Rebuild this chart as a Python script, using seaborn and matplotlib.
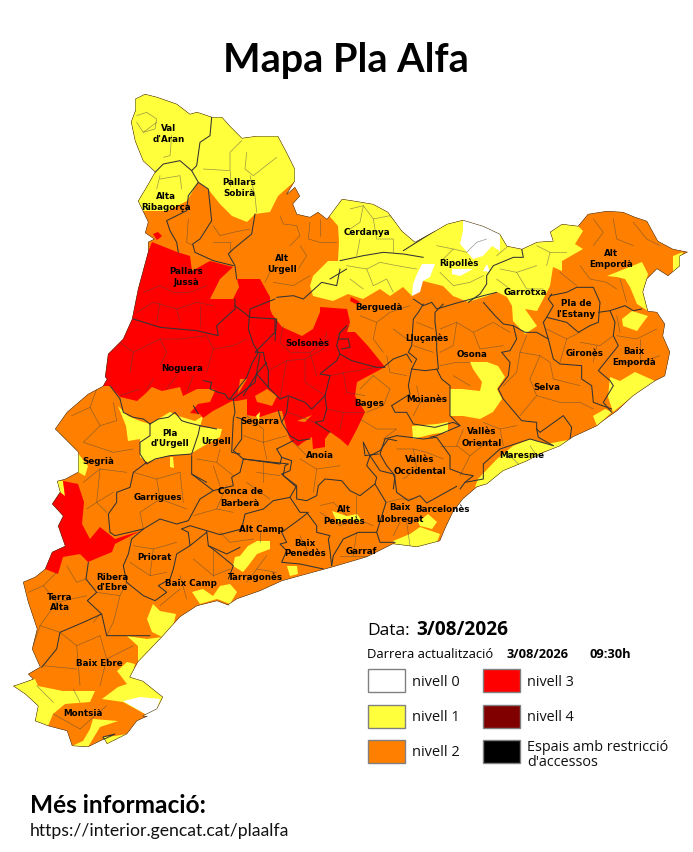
import matplotlib
matplotlib.use('Agg')
import matplotlib.pyplot as plt
from matplotlib.patches import Polygon, Rectangle
import seaborn as sns

sns.set_theme(style='white')

# colours of the levels
BLANC = '#ffffff'
GROC = '#ffff3c'
TARONJA = '#ff8000'
VERMELL = '#ff0000'
GRANA = '#800000'
NEGRE = '#000000'

# map outlines, traced in picture pixels
contorn = [(135,112),(135,100),(145,95),(157,98),(177,105),(190,115),(197,113),(212,118),(222,118),(230,127),
    (242,139),(257,137),(278,137),(286,152),(295,170),(295,182),(287,195),(295,188),(300,197),(293,205),
    (297,215),(310,218),(318,213),(327,220),(333,212),(342,200),(355,202),(373,205),(388,213),(402,232),
    (415,243),(435,232),(447,225),(463,221),(483,227),(500,235),(507,247),(522,250),(537,243),(553,242),
    (550,233),(562,225),(578,227),(588,215),(607,212),(623,213),(635,218),(647,222),(658,242),(673,250),
    (688,253),(680,257),(680,267),(668,277),(657,270),(647,280),(643,293),(648,312),(657,313),(665,325),
    (663,337),(670,353),(665,377),(655,382),(633,397),(617,412),(603,422),(597,427),(573,438),(560,447),
    (540,455),(527,462),(503,472),(487,485),(477,488),(463,500),(453,513),(445,530),(440,542),(417,548),
    (393,545),(367,558),(333,568),(300,577),(282,582),(260,592),(237,600),(228,606),(230,607),(217,602),
    (197,607),(180,618),(162,638),(138,663),(130,678),(143,682),(163,698),(157,710),(143,717),(148,717),
    (137,722),(127,735),(107,745),(103,738),(115,735),(88,748),(72,747),(67,732),(48,727),(35,722),
    (38,707),(25,695),(13,687),(25,683),(33,680),(28,675),(40,668),(32,650),(37,630),(28,603),
    (23,583),(35,578),(45,570),(52,553),(65,547),(58,527),(63,517),(52,505),(60,493),(57,482),
    (65,480),(78,473),(78,453),(55,430),(67,413),(88,395),(103,387),(107,380),(105,378),(108,355),
    (123,340),(132,320),(138,290),(148,253),(148,243),(154,240),(145,234),(148,223),(138,202),(147,187),
    (155,173),(143,162),(135,142),(131,123)]

groc_nord = [(135,112),(135,100),(145,95),(157,98),(177,105),(190,115),(197,113),(212,118),(222,118),(230,127),
    (242,139),(257,137),(278,137),(286,152),(295,170),(295,182),(278,197),(270,213),(255,215),(247,223),
    (232,217),(220,205),(208,190),(198,183),(187,202),(167,212),(143,212),(138,202),(147,187),(155,173),
    (143,162),(135,142),(131,123)]
groc_pirineu = [(325,212),(333,212),(342,200),(355,202),(373,205),(388,213),(402,232),(415,243),(435,232),(447,225),
    (463,221),(483,227),(500,235),(507,247),(522,250),(537,243),(553,242),(550,233),(562,225),(578,227),
    (583,232),(575,245),(583,250),(562,262),(562,272),(553,268),(550,287),(537,312),(525,310),(537,327),
    (525,335),(513,322),(512,307),(507,298),(497,293),(487,297),(468,303),(453,297),(443,287),(423,282),
    (412,297),(403,288),(390,297),(380,290),(363,300),(348,295),(333,302),(313,297),(310,287),(313,277),
    (328,262),(338,262),(339,243),(338,227)]
groc_illes = [
    [(408,203),(412,213),(415,217),(405,215),(403,210)],
    [(607,277),(642,263),(648,275),(643,293),(648,312),(637,305),(630,288),(625,280),(617,278)],
    [(673,257),(683,253),(680,267),(673,273)],
    [(622,320),(632,312),(648,317),(642,325),(637,332),(623,327)],
    [(610,378),(620,382),(635,373),(655,382),(633,397),(613,413),(608,398)],
    [(593,417),(605,410),(612,413),(597,427)],
    [(470,363),(487,363),(498,367),(505,378),(497,390),(502,400),(493,413),(480,420),(463,417),(450,417),
     (450,390),(462,390),(480,392),(482,383),(473,370)],
    [(412,427),(437,425),(448,423),(448,433),(433,435),(413,440)],
    [(573,440),(562,447),(543,453),(517,470),(500,477),(487,485),(475,488),(478,480),(497,460),(513,447),
     (530,440),(547,445)],
    [(118,407),(128,417),(140,422),(150,425),(170,413),(178,417),(195,422),(203,417),(200,428),(222,430),
     (220,438),(207,445),(190,455),(167,457),(147,463),(140,458),(140,440),(128,442),(126,427)],
    [(77,453),(88,467),(85,477),(78,473)],
    [(57,482),(63,482),(65,497),(59,497)],
    [(170,458),(173,458),(174,469),(170,468)],
    [(240,557),(248,547),(257,542),(270,542),(270,550),(257,555),(248,567),(243,573),(233,567),(235,558)],
    [(287,567),(297,567),(298,575),(290,577)],
    [(192,593),(203,590),(213,597),(220,587),(230,585),(237,593),(230,605),(217,600),(200,605)],
    [(153,605),(160,612),(176,615),(173,627),(162,638),(152,633),(147,620)],
    [(127,637),(147,640),(162,638),(147,655),(138,663),(138,647)],
    [(117,672),(127,663),(135,665),(132,678),(143,682),(163,698),(157,710),(147,716),(123,703),(102,700),(118,688),(127,685)],
    [(13,687),(25,683),(35,680),(38,687),(63,692),(95,692),(90,703),(65,705),(53,715),(48,727),(35,722),(38,707),(25,695)],
    [(93,720),(118,722),(100,728),(88,748),(72,747),(83,742),(90,730)],
    [(103,738),(115,737),(127,735),(117,745),(107,745)],
    [(332,512),(347,517),(357,515),(363,523),(347,520),(337,523)],
    [(393,542),(410,535),(420,528),(440,535),(437,543),(413,550),(397,547)],
    [(418,523),(428,515),(437,523),(432,530),(420,527)],
]
groc_segarra = [(256,417),(260,413),(259,422)]
blanc_illes = [
    [(463,221),(483,227),(500,235),(500,252),(492,247),(483,257),(473,260),(460,245),(463,232)],
    [(487,265),(490,273),(483,272)],
    [(452,275),(460,277),(473,270),(452,270)],
    [(422,265),(435,265),(430,278),(423,282),(420,293),(412,297),(413,285),(417,275)],
    [(123,702),(140,698),(160,700),(157,710),(147,716)],
]
vermell_centre = [(152,243),(177,253),(190,257),(192,272),(210,262),(233,268),(220,280),(210,300),(233,300),(239,288),
    (237,280),(260,280),(270,298),(270,310),(272,315),(282,328),(302,337),(313,330),(320,313),(320,308),
    (347,310),(350,323),(347,333),(355,333),(368,347),(385,368),(357,383),(355,397),(365,413),(357,430),
    (348,447),(340,440),(330,433),(325,440),(325,448),(313,450),(312,438),(302,444),(298,447),(290,440),
    (288,435),(282,412),(278,412),(260,418),(253,417),(247,416),(247,400),(237,402),(232,402),(213,412),
    (203,419),(200,415),(190,414),(198,405),(210,403),(215,392),(213,390),(197,390),(183,397),(180,388),
    (162,392),(152,388),(145,395),(137,402),(120,398),(110,387),(103,387),(105,378),(108,355),(123,340),
    (132,320),(138,290),(148,253)]
vermell_oest = [(63,482),(78,485),(84,503),(82,525),(90,540),(100,528),(115,540),(140,532),(115,545),(112,553),
    (88,563),(80,555),(63,558),(58,575),(45,570),(52,553),(65,547),(58,527),(63,517),(52,505),
    (60,493),(65,497)]
vermell_illes = [
    [(153,235),(158,233),(162,237),(157,241)],
    [(351,298),(360,303),(356,305),(350,302)],
    [(290,441),(302,444),(298,447)],
]
taronja_illes = [
    [(255,397),(267,390),(277,397),(272,407),(265,405),(257,403)],
    [(240,380),(247,380),(238,395)],
    [(297,422),(312,416),(305,423)],
]

# county borders, traced on the 3x crops (crop pixels, origin in the tuple key)
vores = {
    (0, 80): [
        [(635,115),(630,170),(600,190),(590,260),(575,275),(540,245),(490,255),(465,280)],
        [(575,275),(595,310),(565,350),(560,395),(500,425),(510,455),(530,490),(535,520)],
        [(595,310),(625,330),(635,425),(600,480),(578,495),(585,520),(640,545),(700,560)],
        [(765,405),(755,465),(700,510),(685,525),(705,560),(710,600)],
        [(705,660),(705,690),(650,740),(655,770),(590,755),(480,745),(400,720)],
        [(705,680),(750,715),(830,720),(825,785)],
        [(830,655),(880,650),(910,660),(965,610),(1010,620),(1020,570)],
        [(990,600),(1040,570)],
    ],
    (340, 190): [
        [(0,215),(70,200),(130,190),(190,195),(250,205)],
        [(190,185),(285,125)],
        [(545,180),(550,205),(520,205),(460,230),(440,260),(440,285),(420,315),(385,340)],
        [(220,330),(250,350),(275,340),(290,360),(340,345),(430,320),(470,310)],
        [(250,345),(235,370),(220,390),(215,470),(205,490),(230,510),(215,540),(255,545),(295,540),(290,480),
         (290,440),(285,400),(285,370),(310,345)],
        [(290,540),(305,570),(330,590),(330,680),(360,710)],
        [(430,340),(465,380),(490,405),(520,410),(530,450),(510,485),(485,490),(510,520),(505,560),(475,600),
         (490,630),(545,695),(590,700),(590,720)],
        [(520,410),(555,430),(590,430),(625,450),(610,400),(620,385),(640,350),(625,330),(635,315)],
        [(630,320),(680,310),(710,295),(760,295),(780,340),(775,400),(750,410),(715,430),(680,400),(620,385)],
        [(775,370),(810,365),(825,400),(820,440),(835,470),(775,545),(810,575),(820,590),(790,640),(815,670)],
        [(810,365),(855,350),(880,365),(905,360)],
        [(625,450),(640,510),(660,525),(725,530),(725,570),(755,590),(760,640),(815,660)],
        [(590,720),(600,730),(670,680),(695,715),(690,750)],
        [(590,720),(595,745),(640,770)],
        [(640,770),(570,750),(480,780),(430,825),(430,870),(375,880),(360,900)],
        [(155,650),(210,615),(205,590),(215,540)],
        [(155,650),(165,670),(200,670),(220,705),(285,715),(340,700),(360,710),(290,740),(270,745)],
        [(135,750),(170,740),(250,750),(290,745),(330,800),(330,840),(370,855),(400,860),(375,880)],
        [(135,750),(120,795),(140,830),(165,860),(160,900)],
        [(70,760),(75,800),(115,795)],
        [(215,520),(200,495),(160,510),(130,535)],
    ],
    (200, 400): [
        [(230,150),(245,175),(275,185),(270,215),(245,225),(290,265),(290,300),(320,305),(350,290),(355,260),
         (375,240),(425,245),(450,275),(480,290),(525,255),(530,235),(500,200),(510,170),(490,130)],
        [(230,150),(280,125)],
        [(540,155),(565,120),(590,125)],
        [(540,155),(510,170),(540,215),(580,225),(585,240),(590,280),(625,305),(660,290),(680,312),(770,262)],
        [(525,255),(558,310),(530,400),(475,400),(430,420),(400,470),(395,500)],
        [(530,400),(540,430),(585,430)],
        [(130,180),(240,195),(245,175)],
    ],
    (0, 370): [
        [(440,280),(400,310),(390,355),(350,370),(350,400),(325,435),(330,490),(345,500),(430,480),(480,450),
         (530,465),(565,455),(600,390),(640,365),(575,315),(575,260)],
        [(430,480),(395,510),(385,555),(370,590),(380,640),(430,680),(465,695),(500,670),(475,650),(510,630),
         (520,600),(530,555),(570,530),(565,490),(545,480)],
        [(265,580),(258,630),(290,670),(262,695),(305,735),(320,800),(380,800),(450,800)],
        [(305,735),(250,760),(180,790),(170,840),(125,895)],
        [(545,480),(570,470),(620,485),(660,497),(725,480),(735,435),(790,420),(820,395),(870,385),(890,350),
         (850,320),(855,290),(865,285),(730,270),(700,245),(725,210),(725,150),(710,145)],
        [(640,365),(700,350),(695,325),(720,310),(730,270)],
        [(575,315),(620,340)],
        [(620,485),(625,530),(680,555),(720,535)],
        [(870,385),(900,430),(920,430),(950,470),(950,490),(990,500),(985,510),(990,545),(995,590)],
        [(845,490),(900,450),(925,430)],
        [(845,490),(860,520),(840,525),(860,545),(845,580),(900,585),(970,600)],
        [(685,630),(700,590),(645,545),(625,530)],
        [(570,530),(620,490)],
    ],
    (230, 290): [
        [(135,30),(60,60),(55,120),(70,165),(85,190),(65,225),(50,265),(0,330)],
        [(135,90),(135,130),(105,160),(75,190),(100,190),(105,215),(115,245),(115,295),(150,330),(175,320),
         (225,340),(245,360),(285,320),(300,260),(270,255),(320,215),(330,195),(365,215),(440,235),(465,235)],
        [(285,320),(290,360),(280,395),(255,400),(300,430)],
        [(115,295),(80,255),(110,220)],
        [(80,255),(40,320)],
        [(330,195),(320,170),(330,130),(350,110)],
        [(325,150),(355,150),(360,175),(335,180)],
        [(175,325),(170,370),(155,400)],
        [(145,365),(155,400),(180,440),(205,455),(240,450)],
    ],
    (100, 340): [
        [(60,180),(70,220),(100,235),(130,240),(150,255),(175,240),(205,235),(225,220),(245,245),(260,250),
         (300,260),(295,285),(275,345),(210,350),(165,360),(140,375),(120,345),(120,310),(150,290),(150,255)],
        [(310,125),(335,130),(330,150),(355,160),(375,165),(385,180),(400,180),(465,130),(480,45)],
        [(400,180),(405,220),(400,240),(395,340),(420,345)],
        [(300,260),(350,270)],
        [(295,225),(280,200)],
        [(30,140),(60,180)],
    ],
}

# municipal boundaries, same tracing
termes = {
    (0, 80): [
        [(410,110),(440,100),(470,120),(465,150),(430,160),(410,130)],
        [(430,160),(470,130)],
        [(515,170),(510,230),(490,235)],
        [(610,270),(690,275),(690,220),(725,185)],
        [(740,220),(735,270),(760,290),(830,235)],
        [(690,275),(690,320)],
        [(750,290),(765,350),(770,400)],
        [(480,300),(540,290),(545,330)],
        [(470,330),(480,290)],
        [(640,440),(660,470),(700,460),(750,450)],
        [(640,490),(690,490),(690,520)],
        [(565,420),(560,490),(580,500)],
        [(840,410),(850,435),(890,440),(900,470),(870,500)],
        [(930,430),(925,480),(960,490),(1010,490)],
        [(960,420),(960,470)],
        [(900,500),(920,530),(895,570)],
        [(810,580),(795,610)],
        [(930,590),(880,620),(820,610)],
        [(430,640),(480,620),(520,640),(570,640),(620,620)],
        [(410,700),(460,670),(530,690),(590,670),(640,680)],
        [(530,690),(540,730)],
        [(600,680),(600,740)],
        [(480,670),(470,730)],
        [(360,790),(400,820),(480,780),(540,780),(620,770)],
        [(480,780),(500,820),(480,860)],
        [(620,770),(640,810),(700,800),(740,780)],
        [(400,820),(390,880)],
        [(640,810),(620,880)],
        [(850,740),(840,790),(870,820),(930,820),(990,780)],
        [(930,820),(950,890)],
        [(1010,770),(1050,740)],
    ],
    (340, 190): [
        [(30,60),(70,50),(100,90),(150,80),(190,120)],
        [(70,50),(60,100),(30,120)],
        [(100,90),(110,150),(160,150),(160,190)],
        [(60,150),(50,200)],
        [(20,230),(80,240),(120,220),(170,230),(230,240)],
        [(80,240),(100,290),(140,270),(160,310)],
        [(30,270),(70,300)],
        [(290,170),(340,180),(380,190),(410,160),(440,150)],
        [(340,180),(310,210)],
        [(300,250),(340,290),(390,280),(430,260)],
        [(470,200),(500,175)],
        [(480,240),(530,250),(590,230)],
        [(530,250),(560,300),(610,300)],
        [(470,270),(510,300)],
        [(590,170),(630,190),(680,190)],
        [(630,190),(620,230)],
        [(760,90),(790,130),(760,170)],
        [(820,90),(830,150),(880,170)],
        [(880,100),(920,150),(960,170)],
        [(720,230),(750,270),(800,280),(830,300)],
        [(840,270),(860,340)],
        [(660,250),(710,290)],
        [(60,380),(110,400),(150,370),(210,350)],
        [(110,400),(100,450),(130,490)],
        [(160,420),(200,450)],
        [(230,400),(280,420)],
        [(220,470),(280,490)],
        [(300,420),(350,400),(400,430),(460,400),(510,430)],
        [(350,400),(340,470),(300,490)],
        [(400,430),(420,480),(490,470)],
        [(300,530),(350,520),(390,520)],
        [(340,560),(390,590)],
        [(620,420),(680,450),(720,430)],
        [(680,450),(660,520)],
        [(720,460),(780,470),(820,440)],
        [(760,520),(770,470)],
        [(830,440),(890,450),(950,420)],
        [(850,520),(900,520),(960,500)],
        [(900,450),(900,520)],
        [(830,380),(840,430)],
        [(540,490),(600,500),(630,520),(640,570)],
        [(560,440),(540,490),(530,550),(490,590)],
        [(600,500),(570,570),(590,620),(660,640)],
        [(640,570),(720,590)],
        [(660,640),(720,640),(760,660)],
        [(590,620),(540,680)],
        [(500,790),(560,850)],
        [(570,770),(590,800)],
        [(100,560),(150,600),(130,650),(80,670)],
        [(60,600),(100,560)],
        [(140,500),(150,550),(200,560)],
        [(60,690),(110,720),(170,720),(130,750)],
        [(230,590),(240,640),(320,630)],
        [(240,640),(220,680)],
        [(370,720),(350,770),(390,800),(440,760)],
        [(300,770),(350,770)],
        [(430,700),(480,720),(530,710)],
        [(480,720),(490,770)],
        [(390,800),(360,860)],
        [(170,780),(220,780),(260,790),(310,810)],
        [(220,780),(230,840),(190,870)],
        [(260,850),(310,850)],
    ],
    (0, 370): [
        [(215,140),(270,115),(300,170),(350,155)],
        [(270,115),(290,60)],
        [(300,170),(250,220),(340,250),(400,240)],
        [(350,155),(340,100)],
        [(250,340),(300,300),(380,310)],
        [(260,420),(290,400),(340,370)],
        [(300,300),(290,400),(320,430)],
        [(400,310),(470,330),(540,310)],
        [(470,330),(480,390),(420,430),(430,480)],
        [(480,390),(560,420)],
        [(540,310),(550,400)],
        [(400,530),(460,540),(530,520)],
        [(460,540),(450,620)],
        [(390,580),(450,620),(500,610)],
        [(85,670),(130,650),(170,610)],
        [(130,650),(170,700),(260,680)],
        [(170,700),(120,770),(180,790)],
        [(120,770),(100,830)],
        [(200,590),(230,640),(258,630)],
        [(290,670),(360,680),(380,640)],
        [(360,680),(340,760),(320,800)],
        [(280,760),(300,735)],
        [(180,790),(230,830),(300,800)],
        [(230,830),(240,950)],
        [(130,890),(230,900)],
        [(300,800),(320,870),(400,830)],
        [(320,870),(300,950)],
        [(110,950),(160,1000)],
        [(220,960),(240,1000)],
        [(160,1035),(240,1080)],
        [(240,1080),(320,1010)],
        [(540,620),(560,690)],
        [(580,570),(640,620),(690,600)],
        [(640,540),(640,620)],
        [(480,710),(540,660)],
        [(580,440),(650,420),(700,430)],
        [(650,420),(680,350)],
        [(740,340),(810,390)],
        [(790,280),(790,340)],
        [(840,320),(770,310)],
        [(640,290),(660,350)],
        [(590,270),(650,280),(660,240)],
        [(650,280),(700,320)],
        [(730,200),(790,220),(860,200)],
        [(790,220),(800,270)],
        [(740,140),(790,180),(790,220)],
        [(900,270),(950,300),(1020,290)],
        [(880,220),(920,260)],
        [(950,300),(940,370)],
        [(660,490),(690,520),(760,510)],
        [(780,490),(780,520)],
        [(770,600),(800,560)],
        [(740,640),(770,600),(830,610)],
        [(900,500),(930,560)],
        [(960,410),(1000,400),(1040,440)],
        [(360,80),(420,60)],
        [(440,60),(460,30)],
        [(500,60),(530,20)],
        [(560,70),(580,20)],
    ],
    (200, 400): [
        [(560,310),(600,300),(640,300)],
        [(600,370),(580,410)],
        [(620,370),(630,440)],
        [(470,400),(460,470)],
        [(420,470),(500,470)],
        [(470,290),(470,360),(520,380)],
        [(360,340),(420,380),(470,360)],
    ],
    (230, 290): [
        [(115,245),(170,215),(225,210),(280,180),(290,130)],
        [(225,210),(225,280),(285,320)],
        [(150,330),(160,270),(170,215)],
        [(300,260),(350,250),(440,235)],
        [(340,250),(350,310),(405,320)],
        [(290,360),(340,370),(405,370)],
        [(340,370),(330,420)],
        [(175,370),(215,385),(255,400)],
    ],
}

# county names and where each line of them sits on the map
comarques = ['Val', "d'Aran", 'Pallars', 'Sobirà', 'Alta', 'Ribagorça', 'Alt', 'Urgell', 'Pallars', 'Jussà',
    'Solsonès', 'Noguera', 'Cerdanya', 'Ripollès', 'Berguedà', 'Alt', 'Empordà', 'Garrotxa', 'Pla de', "l'Estany",
    'Lluçanès', 'Osona', 'Gironès', 'Baix', 'Empordà', 'Selva', 'Bages', 'Moianès', 'Vallès', 'Oriental',
    'Maresme', 'Vallès', 'Occidental', 'Pla', "d'Urgell", 'Urgell', 'Segarra', 'Segrià', 'Anoia', 'Garrigues',
    'Conca de', 'Barberà', 'Alt Camp', 'Alt', 'Penedès', 'Baix', 'Penedès', 'Garraf', 'Baix', 'Llobregat',
    'Barcelonès', 'Priorat', 'Ribera', "d'Ebre", 'Baix Camp', 'Tarragonès', 'Terra', 'Alta', 'Baix Ebre', 'Montsià']
comarques_x = [169,169,239,239,166,166,282,282,186,186,
    307,182,367,459,379,611,611,525,576,576,
    427,472,585,634,634,547,369,427,482,482,
    522,420,420,170,170,216,260,98,320,158,
    240,240,261,344,344,305,305,361,400,400,
    443,154,112,112,191,255,60,60,99,83]
comarques_y = [128,139,182,193,196,207,258,269,271,282,
    343,368,232,263,307,253,264,292,303,314,
    338,354,353,351,362,388,403,400,432,444,
    455,460,472,433,444,441,422,461,455,497,
    492,503,530,509,521,543,554,551,507,519,
    510,558,577,588,583,577,597,608,664,713]

# legend
nivells_esq = ['nivell 0', 'nivell 1', 'nivell 2']
colors_esq = [BLANC, GROC, TARONJA]
nivells_dre = ['nivell 3', 'nivell 4', "Espais amb restricció\nd'accessos"]
colors_dre = [VERMELL, GRANA, NEGRE]

fig = plt.figure(figsize=(6.93, 8.53), dpi=100)
ax = fig.add_axes([0, 0, 1, 1])
ax.set_xlim(0, 693)
ax.set_ylim(853, 0)
ax.axis('off')

base = Polygon(contorn, closed=True, facecolor=TARONJA, edgecolor='none', zorder=1)
ax.add_patch(base)

def pinta(punts, color, z):
    p = Polygon(punts, closed=True, facecolor=color, edgecolor='none', zorder=z)
    ax.add_patch(p)
    p.set_clip_path(base)

pinta(groc_nord, GROC, 2)
pinta(groc_pirineu, GROC, 2)
for illa in groc_illes:
    pinta(illa, GROC, 2)
for illa in blanc_illes:
    pinta(illa, BLANC, 3)
pinta(vermell_centre, VERMELL, 3)
pinta(vermell_oest, VERMELL, 3)
for illa in vermell_illes:
    pinta(illa, VERMELL, 3)
for illa in taronja_illes:
    pinta(illa, TARONJA, 4)
pinta(groc_segarra, GROC, 4)

# borders go through seaborn
def linia(punts, gruix, color='#333333', alpha=1.0, z=5):
    xs = [p[0] for p in punts]
    ys = [p[1] for p in punts]
    sns.lineplot(x=xs, y=ys, sort=False, estimator=None, errorbar=None, color=color,
                 linewidth=gruix, alpha=alpha, ax=ax, zorder=z)
    ax.lines[-1].set_clip_path(base)

for (x0, y0), trams in termes.items():
    for tram in trams:
        linia([(x / 3 + x0, y / 3 + y0) for x, y in tram], 0.5, color='#444444', alpha=0.55, z=4.5)
for (x0, y0), trams in vores.items():
    for tram in trams:
        linia([(x / 3 + x0, y / 3 + y0) for x, y in tram], 0.75)
linia(contorn + contorn[:1], 0.7)

for nom, x, y in zip(comarques, comarques_x, comarques_y):
    ax.text(x, y, nom, ha='center', va='center', fontsize=6.3, fontweight='bold',
            family='DejaVu Sans', color='black', zorder=6)

# titles
ax.text(346, 60, 'Mapa Pla Alfa', ha='center', va='center', fontsize=28.5, fontweight='bold',
        family='Lato', color='black')
ax.text(30, 806, 'Més informació:', ha='left', va='center', fontsize=17.6, fontweight='bold',
        family='Lato', color='black')
ax.text(30, 831, 'https://interior.gencat.cat/plaalfa', ha='left', va='center', fontsize=12.7,
        family='Lato', color='#111111')

# legend block
ax.text(367, 631, 'Data:', ha='left', va='center', fontsize=12.5, family='Open Sans', color='black')
ax.text(416, 630, '3/08/2026', ha='left', va='center', fontsize=13.8, fontweight='bold',
        family='Open Sans', color='black')
ax.text(367, 654, 'Darrera actualització', ha='left', va='center', fontsize=9.4, family='Open Sans', color='black')
ax.text(507, 654, '3/08/2026', ha='left', va='center', fontsize=9.3, fontweight='bold',
        family='Open Sans', color='black')
ax.text(590, 654, '09:30h', ha='left', va='center', fontsize=9.3, fontweight='bold',
        family='Open Sans', color='black')

for i, (nom, col) in enumerate(zip(nivells_esq, colors_esq)):
    ax.add_patch(Rectangle((368, 670 + i * 35.5), 37, 23, facecolor=col, edgecolor='#808080', linewidth=1))
    ax.text(412, 682 + i * 35.5, nom, ha='left', va='center', fontsize=10.5, family='Open Sans', color='#111111')
for i, (nom, col) in enumerate(zip(nivells_dre, colors_dre)):
    ax.add_patch(Rectangle((483, 670 + i * 35.5), 37, 23, facecolor=col, edgecolor='#808080', linewidth=1))
    ax.text(527, 682 + i * 35.5 + (2 if i == 2 else 0), nom, ha='left', va='center', fontsize=10.4,
            family='Open Sans', color='#111111', linespacing=0.95)

fig.savefig('out.png', dpi=100)
